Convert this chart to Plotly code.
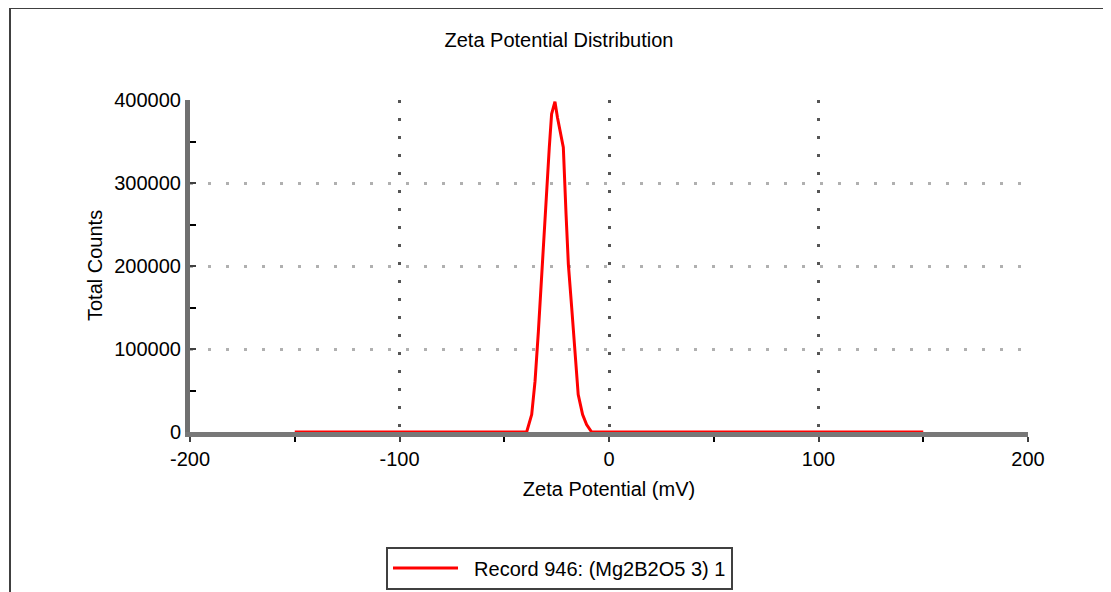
import plotly.graph_objects as go

# Data
zeta_mv = [-150, -100, -50, -39.3, -36.9, -35.3, -33.7, -32.5, -31.0, -29.7, -28.5,
           -27.4, -25.8, -24.6, -23.4, -21.8, -20.5, -19.4, -17.8, -16.2, -14.7,
           -12.6, -10.7, -8.3, 0, 50, 100, 150]
total_counts = [0, 0, 0, 0, 21000, 61200, 121500, 173800, 242200, 294500, 342800,
                383100, 398000, 379000, 363000, 342800, 262400, 202000, 149700, 93400, 45100,
                21000, 8900, 0, 0, 0, 0, 0]
series_name = "Record 946: (Mg2B2O5 3) 1"
x_tickvals = [-200, -100, 0, 100, 200]
x_ticktext = ["-200", "-100", "0", "100", "200"]
y_tickvals = [0, 100000, 200000, 300000, 400000]
y_ticktext = ["0", "100000", "200000", "300000", "400000"]

FONT = "Liberation Sans, Arial, sans-serif"
FS = 20

# page has an 8px body margin; work in page pixels and convert
OFF = 8
W, H = 1111 - 2 * OFF, 592 - OFF
PL, PR, PT, PB = 190, 1028, 100, 432  # plot area in page pixels
L = PL - OFF
R = W - (PR - OFF)
T = PT - OFF
B = H - (PB - OFF)
pw, ph = W - L - R, H - T - B

def px_x(p):
    return (p - OFF - L) / pw

def px_y(p):
    return (H - B - (p - OFF)) / ph

fig = go.Figure()
fig.add_trace(go.Scatter(
    x=zeta_mv, y=total_counts, mode="lines", name="\u00a0\u00a0" + series_name,
    line=dict(color="#ff0000", width=3), showlegend=True,
))

fig.update_layout(
    width=W, height=H,
    margin=dict(l=L, r=R, t=T, b=B, autoexpand=False),
    paper_bgcolor="white", plot_bgcolor="white",
    font=dict(family=FONT, size=FS, color="black"),
    title=dict(text="Zeta Potential Distribution", x=(559 - OFF) / W, xanchor="center",
               y=1 - (40 - OFF) / H, yanchor="middle", font=dict(family=FONT, size=FS, color="black")),
    showlegend=True,
    legend=dict(x=px_x(386), y=px_y(568), xanchor="left", yanchor="middle",
                itemwidth=65, tracegroupgap=0,
                bordercolor="#404040", borderwidth=2, bgcolor="white",
                font=dict(family=FONT, size=FS, color="black")),
    xaxis=dict(
        range=[-200, 200], tickvals=x_tickvals, ticktext=x_ticktext,
        showline=True, linecolor="#787878", linewidth=5,
        showgrid=True, gridcolor="#555555", griddash="3px,15px", gridwidth=3,
        zeroline=False, ticks="outside", ticklen=5, tickwidth=2, tickcolor="#404040",
        minor=dict(dtick=50, ticks="outside", ticklen=5, tickwidth=2, tickcolor="black", showgrid=False),
        layer="below traces",
        title=dict(text="Zeta Potential (mV)", standoff=14, font=dict(family=FONT, size=FS)),
        tickfont=dict(family=FONT, size=FS),
    ),
    yaxis=dict(
        range=[0, 400000], tickvals=y_tickvals, ticktext=y_ticktext,
        showline=True, linecolor="#707070", linewidth=5,
        showgrid=True, gridcolor="#b0b0b0", griddash="3px,15px", gridwidth=3,
        zeroline=False, ticks="inside", ticklen=6, tickwidth=2, tickcolor="#404040",
        minor=dict(dtick=50000, ticks="inside", ticklen=6, tickwidth=2, tickcolor="black", showgrid=False),
        layer="below traces",
        tickfont=dict(family=FONT, size=FS),
    ),
    annotations=[dict(text="Total Counts", textangle=-90, xref="paper", yref="paper",
                      x=px_x(95), y=px_y(266), xanchor="center", yanchor="middle",
                      showarrow=False, font=dict(family=FONT, size=FS, color="black"))],
)

# Outer frame of the original window
fig.add_shape(type="rect", xref="paper", yref="paper",
              x0=px_x(10), x1=px_x(1108), y0=px_y(720), y1=px_y(8),
              line=dict(color="#404040", width=2), layer="below")

fig.write_html("out.html")
